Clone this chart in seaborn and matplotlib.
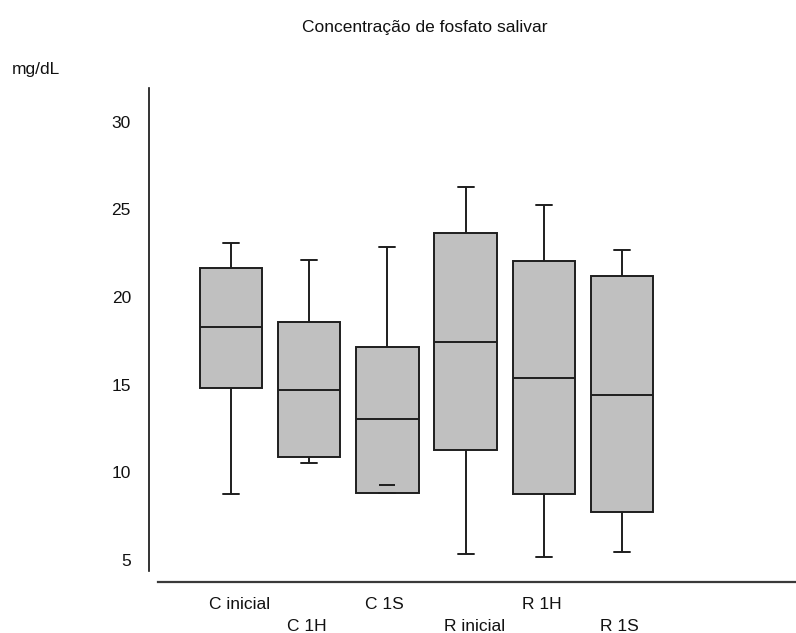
import matplotlib
matplotlib.use("Agg")
import matplotlib.pyplot as plt
import matplotlib.transforms as mtransforms
import numpy as np
import pandas as pd
import seaborn as sns

# Five-number summaries of salivary phosphate (mg/dL) per group
groups = ["C inicial", "C 1H", "C 1S", "R inicial", "R 1H", "R 1S"]
whisker_low = [8.75, 10.51, 9.29, 5.36, 5.17, 5.45]
q1 = [14.83, 10.89, 8.82, 11.25, 8.76, 7.72]
median = [18.29, 14.71, 13.04, 17.43, 15.38, 14.43]
q3 = [21.64, 18.56, 17.15, 23.63, 22.04, 21.18]
whisker_high = [23.06, 22.13, 22.87, 26.26, 25.23, 22.68]
y_ticks = [5, 10, 15, 20, 25, 30]

title = "Concentração de fosfato salivar"
y_unit = "mg/dL"

FONT = ["Liberation Sans", "DejaVu Sans"]
FS = 12.5
BOX_FACE = "#c0c0c0"
EDGE = "#1e1e1e"
BOX_W = 0.8
CAP_W = 0.205

sns.set_theme(style="white")
plt.rcParams["font.family"] = FONT

# Long-form table: five values per group give exact quartiles and
# min/max whiskers with whis=(0, 100)
rows = []
for g, lo, a, m, b, hi in zip(groups, whisker_low, q1, median, q3, whisker_high):
    for v in (min(lo, a), a, m, b, hi):
        rows.append({"grupo": g, "valor": v})
df = pd.DataFrame(rows)

fig = plt.figure(figsize=(7.96, 6.33), dpi=100)
W, H = 796, 633
ax = fig.add_axes([158 / W, (H - 582) / H, (W - 158) / W, 494 / H])

sns.boxplot(
    data=df, x="grupo", y="valor", order=groups, ax=ax,
    whis=(0, 100), width=BOX_W, color=BOX_FACE, saturation=1,
    linecolor=EDGE, linewidth=1.4, showfliers=False,
)

# Narrow caps centred on each box
for ln in ax.lines:
    xd, yd = np.asarray(ln.get_xdata(), float), np.asarray(ln.get_ydata(), float)
    if len(xd) == 2 and yd[0] == yd[1] and abs(xd[1] - xd[0]) < BOX_W - 0.01:
        c = xd.mean()
        ln.set_xdata([c - CAP_W / 2, c + CAP_W / 2])

# Lower caps that fall inside the box (whisker end above the first quartile)
for i, (lo, a) in enumerate(zip(whisker_low, q1)):
    if lo > a:
        ax.hlines(lo, i - CAP_W / 2, i + CAP_W / 2, color=EDGE, linewidth=1.4, zorder=5)

ax.set_xlim(-0.9335, 7.225)
ax.set_ylim(3.74, 31.92)
ax.set_xlabel("")
ax.set_ylabel("")
ax.set_xticks([])
ax.set_yticks(y_ticks)
ax.set_yticklabels([str(t) for t in y_ticks])
ax.tick_params(axis="y", length=0, pad=13, labelsize=FS, labelcolor="#111111")

for s in ("top", "right"):
    ax.spines[s].set_visible(False)
ax.spines["left"].set_position(("outward", 6.5))
ax.spines["left"].set_bounds(4.37, 31.92)
ax.spines["left"].set_color("#111111")
ax.spines["left"].set_linewidth(1.2)
ax.spines["bottom"].set_color("#3a3a3a")
ax.spines["bottom"].set_linewidth(1.6)

# Staggered category labels, left-aligned just left of each box centre
for i, g in enumerate(groups):
    dy = -27 if i % 2 == 0 else -49
    tr = mtransforms.offset_copy(ax.get_xaxis_transform(), fig=fig, x=-22, y=dy, units="dots")
    ax.text(i, 0, g, transform=tr, ha="left", va="baseline", fontsize=FS,
            color="#111111", clip_on=False)

fig.text(425 / W, 1 - 32 / H, title, ha="center", va="baseline", fontsize=FS, color="#111111")
fig.text(11.7 / W, 1 - 74 / H, y_unit, ha="left", va="baseline", fontsize=FS, color="#111111")

fig.savefig("out.png", dpi=100, facecolor="white")
